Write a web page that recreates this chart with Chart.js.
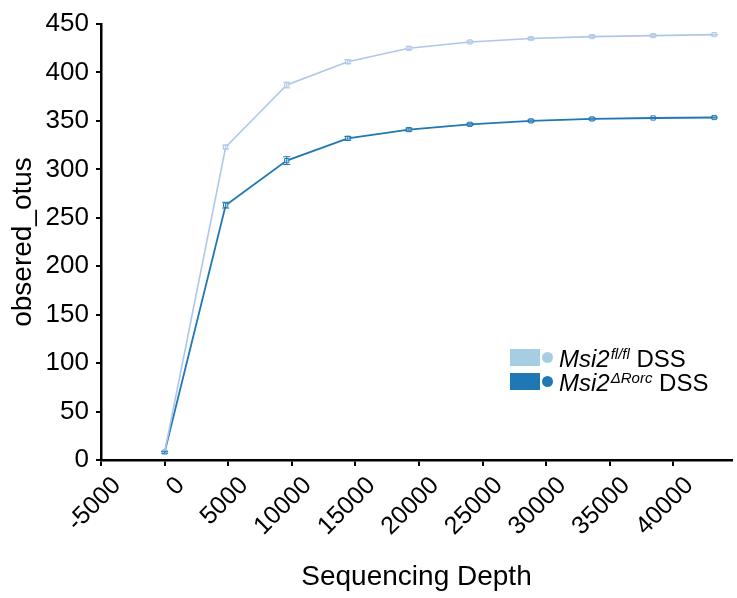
<!DOCTYPE html>
<html>
<head>
<meta charset="utf-8">
<script src="https://cdn.jsdelivr.net/npm/chart.js@4.4.1/dist/chart.umd.min.js"></script>
<style>
  html, body { margin: 0; padding: 0; background: #ffffff; }
  #wrap { position: relative; width: 737px; height: 598px; }
</style>
</head>
<body>
<div id="wrap"><canvas id="chart" width="737" height="598"></canvas></div>
<script>
// ---- data ----
const depths = [0, 4800, 9600, 14400, 19200, 24000, 28800, 33600, 38400, 43200];
const flflValues = [8, 323, 387, 411, 425, 431.5, 435, 437, 438, 439];
const rorcValues = [8, 263, 309, 332, 341, 346.5, 350, 352, 353, 353.5];
const flflErr = [1, 2, 3, 2, 1.5, 1, 1, 1, 1, 0.5];
const rorcErr = [1, 3, 4, 2, 1.5, 1, 1, 1, 0.5, 0.5];
const xTickValues = [-5000, 0, 5000, 10000, 15000, 20000, 25000, 30000, 35000, 40000];
const yTickValues = [0, 50, 100, 150, 200, 250, 300, 350, 400, 450];
const legendMain = ['Msi2', 'Msi2'];
const legendSup = ['fl/fl', '\u0394Rorc'];
const legendTail = [' DSS', ' DSS'];
const xTitle = 'Sequencing Depth';
const yTitle = 'obsered_otus';

const lineColors = ['#aec7e8', '#1f77b4'];
const swatchColors = ['#a6cee3', '#1f78b4'];
const errors = [flflErr, rorcErr];
const FONT = '"Liberation Sans", Arial, sans-serif';

const toPts = vals => depths.map((d, i) => ({ x: d, y: vals[i] }));

const errorBars = {
  id: 'errorBars',
  afterDatasetsDraw(chart) {
    const ctx = chart.ctx;
    const ys = chart.scales.y;
    chart.data.datasets.forEach((ds, di) => {
      const meta = chart.getDatasetMeta(di);
      ctx.save();
      ctx.strokeStyle = ds.borderColor;
      ctx.lineWidth = 1;
      meta.data.forEach((pt, i) => {
        const e = errors[di][i];
        const v = ds.data[i].y;
        const y1 = ys.getPixelForValue(v - e);
        const y2 = ys.getPixelForValue(v + e);
        ctx.beginPath();
        ctx.moveTo(pt.x, y1); ctx.lineTo(pt.x, y2);
        ctx.moveTo(pt.x - 3.5, y1); ctx.lineTo(pt.x + 3.5, y1);
        ctx.moveTo(pt.x - 3.5, y2); ctx.lineTo(pt.x + 3.5, y2);
        ctx.stroke();
      });
      ctx.restore();
    });
  }
};

const customLegend = {
  id: 'customLegend',
  afterDraw(chart) {
    const ctx = chart.ctx;
    const rowsY = [357.5, 381.5];
    ctx.save();
    for (let i = 0; i < legendMain.length; i++) {
      const cy = rowsY[i];
      ctx.fillStyle = swatchColors[i];
      ctx.fillRect(510, cy - 8.5, 30, 17);
      ctx.beginPath();
      ctx.arc(547.5, cy, 5.5, 0, Math.PI * 2);
      ctx.fill();
      ctx.fillStyle = '#000000';
      ctx.textBaseline = 'alphabetic';
      ctx.textAlign = 'left';
      const base = cy + 9;
      let x = 559;
      ctx.font = 'italic 24px ' + FONT;
      ctx.fillText(legendMain[i], x, base);
      x += ctx.measureText(legendMain[i]).width + 1;
      ctx.font = 'italic 15px ' + FONT;
      ctx.fillText(legendSup[i], x, base - 8);
      x += ctx.measureText(legendSup[i]).width;
      ctx.font = '24px ' + FONT;
      ctx.fillText(legendTail[i], x, base);
    }
    ctx.restore();
  }
};

new Chart(document.getElementById('chart'), {
  type: 'line',
  data: {
    datasets: [
      {
        label: legendMain[0] + legendSup[0] + legendTail[0],
        data: toPts(flflValues),
        borderColor: lineColors[0],
        backgroundColor: 'rgba(255,255,255,0.7)',
        borderWidth: 1.6,
        pointStyle: 'rect',
        pointRadius: 3,
        pointBorderWidth: 1,
        tension: 0
      },
      {
        label: legendMain[1] + legendSup[1] + legendTail[1],
        data: toPts(rorcValues),
        borderColor: lineColors[1],
        backgroundColor: 'rgba(255,255,255,0.7)',
        borderWidth: 1.8,
        pointStyle: 'rect',
        pointRadius: 3,
        pointBorderWidth: 1,
        tension: 0
      }
    ]
  },
  options: {
    responsive: false,
    animation: false,
    layout: { padding: { top: 24, right: 0, left: 0, bottom: 0 } },
    plugins: { legend: { display: false }, tooltip: { enabled: false } },
    scales: {
      x: {
        type: 'linear',
        min: -5000,
        max: 44600,
        afterBuildTicks(scale) { scale.ticks = xTickValues.map(v => ({ value: v })); },
        afterFit(scale) { scale.height = 138; },
        border: { display: true, color: '#000000', width: 2.5 },
        grid: { display: true, drawOnChartArea: false, drawTicks: true, tickLength: 6, color: '#000000', lineWidth: 2 },
        ticks: {
          color: '#000000',
          font: { family: FONT, size: 25 },
          maxRotation: 45,
          minRotation: 45,
          padding: 5,
          labelOffset: 16,
          autoSkip: false,
          callback: v => String(v)
        },
        title: {
          display: true,
          text: xTitle,
          color: '#000000',
          font: { family: FONT, size: 28 },
          padding: { top: 0, bottom: 4 }
        }
      },
      y: {
        type: 'linear',
        min: 0,
        max: 450,
        afterBuildTicks(scale) { scale.ticks = yTickValues.map(v => ({ value: v })); },
        afterFit(scale) { scale.width = 101; },
        border: { display: true, color: '#000000', width: 2.5 },
        grid: { display: true, drawOnChartArea: false, drawTicks: true, tickLength: 5, color: '#000000', lineWidth: 2 },
        ticks: {
          color: '#000000',
          font: { family: FONT, size: 26 },
          padding: 7,
          callback: v => String(v)
        },
        title: {
          display: true,
          text: yTitle,
          color: '#000000',
          font: { family: FONT, size: 28 },
          padding: { top: 6, bottom: 0 }
        }
      }
    }
  },
  plugins: [errorBars, customLegend]
});
</script>
</body>
</html>
